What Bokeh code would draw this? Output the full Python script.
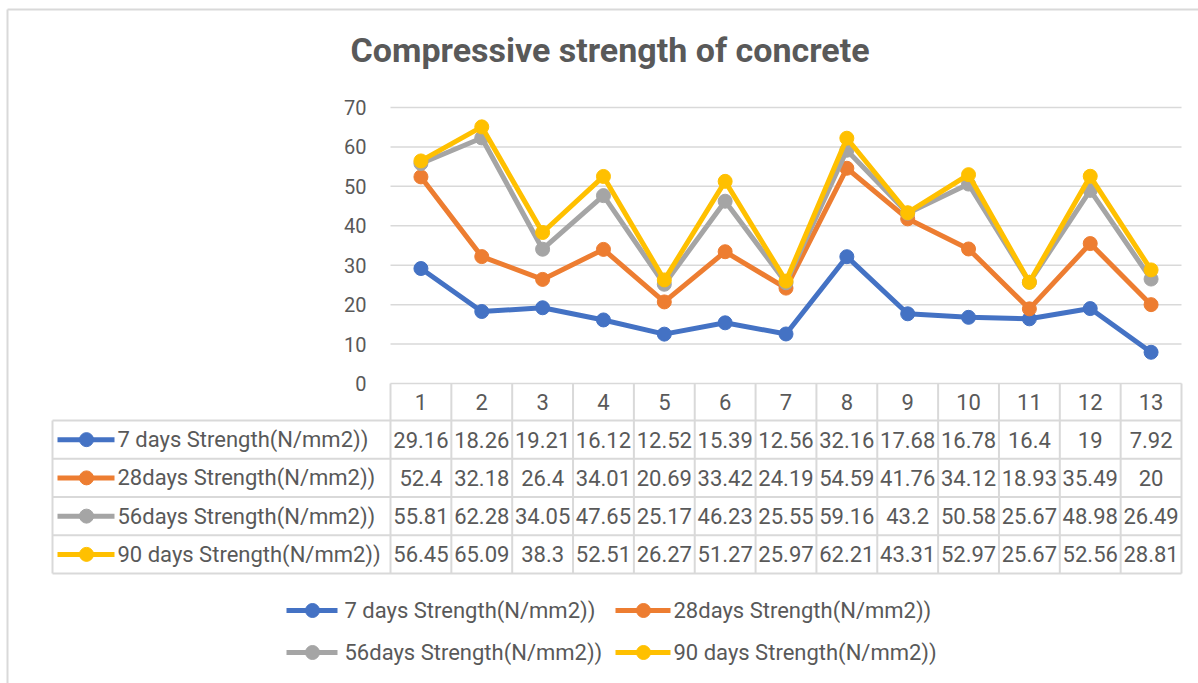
from bokeh.plotting import figure
from bokeh.models import Range1d, FixedTicker
from bokeh.core.properties import value
from bokeh.embed import file_html
from bokeh.resources import INLINE

# ---------------- data ----------------
categories = [1, 2, 3, 4, 5, 6, 7, 8, 9, 10, 11, 12, 13]
series_names = ["7 days Strength(N/mm2))", "28days Strength(N/mm2))",
                "56days Strength(N/mm2))", "90 days Strength(N/mm2))"]
s7 = [29.16, 18.26, 19.21, 16.12, 12.52, 15.39, 12.56, 32.16, 17.68, 16.78, 16.4, 19, 7.92]
s28 = [52.4, 32.18, 26.4, 34.01, 20.69, 33.42, 24.19, 54.59, 41.76, 34.12, 18.93, 35.49, 20]
s56 = [55.81, 62.28, 34.05, 47.65, 25.17, 46.23, 25.55, 59.16, 43.2, 50.58, 25.67, 48.98, 26.49]
s90 = [56.45, 65.09, 38.3, 52.51, 26.27, 51.27, 25.97, 62.21, 43.31, 52.97, 25.67, 52.56, 28.81]
y_ticks = [0, 10, 20, 30, 40, 50, 60, 70]
title_text = "Compressive strength of concrete"

series = [s7, s28, s56, s90]
colors = ["#4472C4", "#ED7D31", "#A5A5A5", "#FFC000"]
TXT = "#595959"
GRID = "#D9D9D9"
FONT = "Roboto"
FS = "22px"

# ---------------- layout (canvas px) ----------------
W, H = 1198, 683
# plot area of the line chart
FL, FR, FT, FB = 390, 1181, 107, 383
XMIN, XMAX = 0.5, 13.5
YMIN, YMAX = 0, 70
# Bokeh frame (covers chart + data table + legend)
BL, BT = 50, 90


def dx(px):
    return XMIN + (px - FL) * (XMAX - XMIN) / (FR - FL)


def dy(py):
    return YMIN + (FB - py) * (YMAX - YMIN) / (FB - FT)


p = figure(width=W, height=H, x_range=Range1d(dx(BL), dx(W)), y_range=Range1d(dy(H), dy(BT)),
           output_backend="svg", toolbar_location=None, x_axis_location=None,
           min_border_left=BL, min_border_right=0, min_border_top=BT, min_border_bottom=0)
p.outline_line_color = None
p.background_fill_color = "white"
p.border_fill_color = "white"
p.xgrid.grid_line_color = None
p.ygrid.grid_line_color = None

# title
p.title.text = title_text
p.title.text_font = FONT
p.title.text_font_style = "bold"
p.title.text_font_size = "34px"
p.title.text_color = TXT
p.title.align = "left"
p.title.offset = 350 - BL
p.title.standoff = 41

# value axis, fixed at the left edge of the plot area
p.yaxis.fixed_location = XMIN
p.yaxis.ticker = FixedTicker(ticks=y_ticks)
p.yaxis.axis_line_color = None
p.yaxis.major_tick_line_color = None
p.yaxis.minor_tick_line_color = None
p.yaxis.major_label_text_font = FONT
p.yaxis.major_label_text_font_size = "20px"
p.yaxis.major_label_text_color = TXT
p.yaxis.major_label_standoff = 18

# horizontal gridlines over the plot area only
p.segment(x0=[XMIN] * len(y_ticks), y0=y_ticks, x1=[XMAX] * len(y_ticks), y1=y_ticks,
          line_color=GRID, line_width=1.5)

# series lines + markers
for vals, col in zip(series, colors):
    p.line(categories, vals, line_color=col, line_width=5)
    p.scatter(categories, vals, marker="circle", size=14, fill_color=col, line_color=col)

# ---------------- data table ----------------
HEAD_C = 401.5
ROW_TOP = 420
ROW_H = 38.25
TABLE_L = 52
row_edges = [ROW_TOP + i * ROW_H for i in range(5)]
row_centers = [ROW_TOP + (i + 0.5) * ROW_H for i in range(4)]
bounds = [c - 0.5 for c in categories] + [categories[-1] + 0.5]

p.segment(x0=[dx(TABLE_L)] * 5, y0=[dy(e) for e in row_edges],
          x1=[XMAX] * 5, y1=[dy(e) for e in row_edges], line_color=GRID, line_width=2)
p.segment(x0=bounds, y0=[YMIN] * len(bounds), x1=bounds, y1=[dy(row_edges[-1])] * len(bounds),
          line_color=GRID, line_width=2)
p.segment(x0=[dx(TABLE_L)], y0=[dy(row_edges[0])], x1=[dx(TABLE_L)], y1=[dy(row_edges[-1])],
          line_color=GRID, line_width=2)

# header row (category numbers)
p.text(x=categories, y=[dy(HEAD_C)] * len(categories), text=[str(c) for c in categories],
       text_font=value(FONT), text_font_size=FS, text_color=TXT,
       text_align="center", text_baseline="middle")


def legend_key(x0, x1, xm, xt, py, col, name):
    yc = dy(py)
    p.segment(x0=[dx(x0)], y0=[yc], x1=[dx(x1)], y1=[yc], line_color=col, line_width=5)
    p.scatter(x=[dx(xm)], y=[yc], marker="circle", size=14, fill_color=col, line_color=col)
    p.text(x=[dx(xt)], y=[yc], text=[name], text_font=value(FONT), text_font_size=FS,
           text_color=TXT, text_align="left", text_baseline="middle")


for i, (vals, col, name) in enumerate(zip(series, colors, series_names)):
    yc = dy(row_centers[i])
    p.text(x=categories, y=[yc] * len(categories), text=[f"{v:g}" for v in vals],
           text_font=value(FONT), text_font_size=FS, text_color=TXT,
           text_align="center", text_baseline="middle")
    legend_key(57, 114, 86, 117, row_centers[i], col, name)

# ---------------- legend at the bottom (2 x 2) ----------------
leg_rows = [610, 652]
leg_cols = [(286, 337, 312, 344), (615, 670, 643, 673)]
for i, (col, name) in enumerate(zip(colors, series_names)):
    r, c = divmod(i, 2)
    x0, x1, xm, xt = leg_cols[c]
    legend_key(x0, x1, xm, xt, leg_rows[r], col, name)

# chart border (top and left edges visible)
p.segment(x0=[dx(7), dx(7)], y0=[dy(9), dy(9)], x1=[dx(W), dx(7)], y1=[dy(9), dy(H)],
          line_color=GRID, line_width=2, level="overlay")

open("out.html", "w").write(file_html(p, INLINE))
